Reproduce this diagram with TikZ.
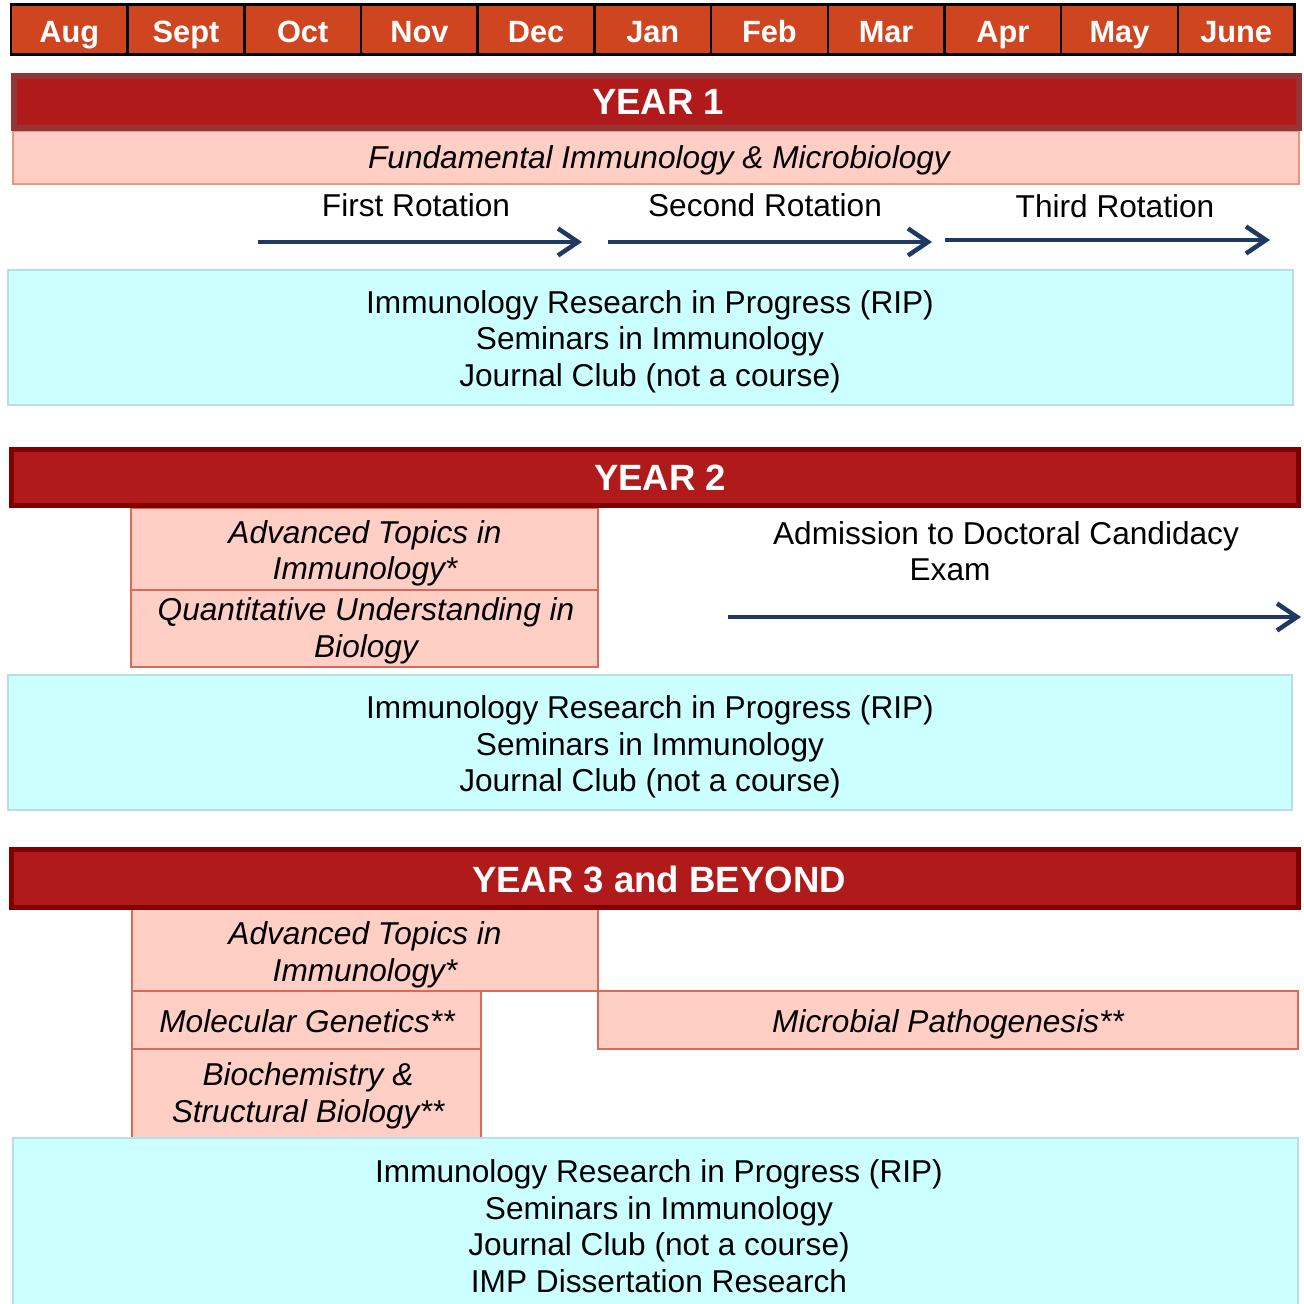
\documentclass[tikz,border=0pt]{standalone}
\usepackage{fontspec}
\setmainfont{Liberation Sans}
\usetikzlibrary{arrows.meta}
\definecolor{monthfill}{RGB}{207,69,32}
\definecolor{yearfill}{RGB}{176,26,26}
\definecolor{yearedgeA}{RGB}{148,54,52}
\definecolor{yearedge}{RGB}{128,0,0}
\definecolor{coursefill}{RGB}{255,207,197}
\definecolor{courseedge}{RGB}{217,105,90}
\definecolor{courseedgeA}{RGB}{233,150,130}
\definecolor{seminarfill}{RGB}{204,255,255}
\definecolor{seminaredge}{RGB}{183,222,232}
\definecolor{arrowblue}{RGB}{31,56,100}
\tikzset{
  body/.style={font=\fontsize{18}{20.8}\selectfont,align=center,inner sep=0pt},
  ibody/.style={body,font=\fontsize{18}{20.8}\selectfont\itshape},
  course/.style={fill=coursefill,draw=courseedge,line width=0.04cm},
  seminar/.style={fill=seminarfill,draw=seminaredge,line width=0.04cm},
  yearbar/.style={fill=yearfill,draw=yearedge,line width=0.1cm},
  yeartext/.style={text=white,font=\fontsize{20.8}{24}\selectfont\bfseries,inner sep=0pt},
  monthtext/.style={text=white,font=\fontsize{17.5}{21}\selectfont\bfseries,inner sep=0pt,anchor=base},
  rotarrow/.style={->,draw=arrowblue,line width=0.09cm}
}
\begin{document}
\begin{tikzpicture}[x=0.02cm,y=-0.02cm,>={Straight Barb[length=0.4cm,width=0.54cm]}]
  \useasboundingbox (0,0) rectangle (1304,1304);
  % months
  \foreach \m [count=\i] in {Aug,Sept,Oct,Nov,Dec,Jan,Feb,Mar,Apr,May,June}{
    \draw[fill=monthfill,line width=0.05cm] ({11+(\i-1)*116.68},4.7) rectangle +(116.68,50.3);
    \node[monthtext] (m\i) at ({11+(\i-0.5)*116.68},42.5) {\m};
  }
  \draw[line width=0.06cm] (11,4.7) rectangle (1294.5,55);

  % year 1
  \draw[fill=coursefill,draw=courseedgeA,line width=0.04cm] (13,131) rectangle (1299,184);
  \draw[yearbar,draw=yearedgeA,line width=0.12cm] (14,76) rectangle (1299,128.5);
  \node[yeartext] (y1) at (658,102) {YEAR 1};
  \node[ibody,anchor=base] (fund) at (659,169) {Fundamental Immunology \& Microbiology};
  \node[body] (rot1) at (416,205) {First Rotation};
  \node[body] (rot2) at (765,205) {Second Rotation};
  \node[body] (rot3) at (1115,206) {Third Rotation};
  \coordinate (r1a) at (258,242); \coordinate (r1b) at (582,242);
  \coordinate (r2a) at (608,242); \coordinate (r2b) at (932,242);
  \coordinate (r3a) at (945,240); \coordinate (r3b) at (1270,240);
  \draw[rotarrow] (r1a) -- (r1b);
  \draw[rotarrow] (r2a) -- (r2b);
  \draw[rotarrow] (r3a) -- (r3b);
  \draw[seminar] (8,270) rectangle (1293,405);
  \node[body] (sem1) at (650,341.5) {Immunology Research in Progress (RIP)\\Seminars in Immunology\\Journal Club (not a course)};

  % year 2
  \draw[course] (131,508) rectangle (598,590);
  \draw[course] (131,590) rectangle (598,667);
  \draw[yearbar,line width=0.1cm] (11.5,449.5) rectangle (1298.5,505.5);
  \node[yeartext] (y2) at (660,478) {YEAR 2};
  \node[ibody] (adv2) at (365,553.5) {Advanced Topics in\\Immunology*};
  \node[ibody] (quant) at (366,631) {Quantitative Understanding in\\Biology};
  \node[body] (adm) at (1006,551) {Admission to Doctoral Candidacy\\\hspace*{-2.24cm}Exam};
  \coordinate (ea) at (728,617); \coordinate (eb) at (1301,617);
  \draw[rotarrow] (ea) -- (eb);
  \draw[seminar] (8,675) rectangle (1292,810);
  \node[body] (sem2) at (650,747) {Immunology Research in Progress (RIP)\\Seminars in Immunology\\Journal Club (not a course)};

  % year 3 and beyond
  \draw[course] (132,909) rectangle (598,991);
  \draw[course] (132,991) rectangle (481,1049);
  \draw[course] (598,991) rectangle (1298,1049);
  \draw[course] (132,1049) rectangle (481,1138);
  \draw[yearbar,line width=0.1cm] (11.5,849.5) rectangle (1298.5,907);
  \node[yeartext] (y3) at (659,879) {YEAR 3 and BEYOND};
  \node[ibody] (adv3) at (365,955) {Advanced Topics in\\Immunology*};
  \node[ibody,anchor=base] (molgen) at (307,1032) {Molecular Genetics**};
  \node[ibody,anchor=base] (micro) at (948,1032) {Microbial Pathogenesis**};
  \node[ibody] (biochem) at (308,1096) {Biochemistry \&\\Structural Biology**};
  \draw[seminar] (13,1138) rectangle (1298,1330);
  \node[body] (sem3) at (659,1226) {Immunology Research in Progress (RIP)\\Seminars in Immunology\\Journal Club (not a course)\\IMP Dissertation Research};
\end{tikzpicture}
\end{document}
